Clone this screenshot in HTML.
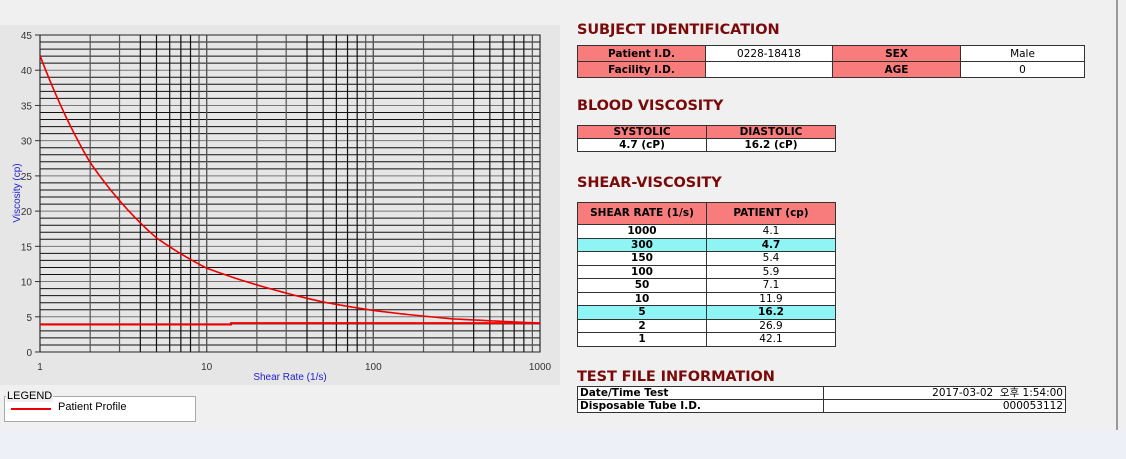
<!DOCTYPE html>
<html><head><meta charset="utf-8">
<style>
body{margin:0;width:1126px;height:459px;background:#f0f0f0;position:relative;overflow:hidden;font-family:"DejaVu Sans","Liberation Sans",sans-serif;}
.abs{position:absolute}
.title{position:absolute;left:577px;color:#7a0a0a;font-weight:bold;font-size:14.5px;letter-spacing:-0.1px;font-family:"DejaVu Sans",sans-serif}
table{position:absolute;border-collapse:collapse;font-size:10.5px;table-layout:fixed}
td{padding:0;text-align:center;border:1px solid #333;line-height:14px;height:14px;overflow:hidden;white-space:nowrap}
.sv td{line-height:12.5px;height:12.5px}
.sv tr:first-child td{height:21px;line-height:21px}
.h{background:#f87c7c;font-weight:bold}
.w{background:#fff}
.c{background:#8ef4f4;font-weight:bold}
.b{font-weight:bold}
</style></head><body>
<div class="abs" style="left:0;top:25px;width:560px;height:360px;background:#e6e6e6"></div>
<svg class="abs" style="left:0;top:0" width="560" height="390" id="chart"></svg>
<div class="abs" style="left:4px;top:396px;width:190px;height:24px;border:1px solid #aaa;background:#fff"></div>
<div class="abs" style="left:6px;top:390px;font:11px 'Liberation Sans',sans-serif;background:#f0f0f0;padding:0 1px">LEGEND</div>
<div class="abs" style="left:11px;top:408px;width:40px;height:2px;background:#e00"></div>
<div class="abs" style="left:58px;top:401px;font:11px 'Liberation Sans',sans-serif">Patient Profile</div>
<div class="abs" style="left:1116px;top:0;width:2px;height:430px;background:#999"></div>
<div class="abs" style="left:0;top:431px;width:1126px;height:28px;background:#edf0f6"></div>

<div class="title" style="top:22px">SUBJECT IDENTIFICATION</div>
<table style="left:577px;top:45px;width:508px">
<tr><td class="h" style="width:127px;height:15px">Patient I.D.</td><td class="w" style="width:126px">0228-18418</td><td class="h" style="width:127px">SEX</td><td class="w">Male</td></tr>
<tr><td class="h" style="height:15px">Facility I.D.</td><td class="w"></td><td class="h">AGE</td><td class="w">0</td></tr>
</table>

<div class="title" style="top:98px">BLOOD VISCOSITY</div>
<table style="left:577px;top:125px;width:259px">
<tr><td class="h" style="width:128px;line-height:12px;height:12px">SYSTOLIC</td><td class="h" style="line-height:12px;height:12px">DIASTOLIC</td></tr>
<tr><td class="w b" style="line-height:12px;height:12px">4.7 (cP)</td><td class="w b" style="line-height:12px;height:12px">16.2 (cP)</td></tr>
</table>

<div class="title" style="top:175px">SHEAR-VISCOSITY</div>
<table class="sv" style="left:577px;top:202px;width:259px">
<tr><td class="h" style="width:128px">SHEAR RATE (1/s)</td><td class="h">PATIENT (cp)</td></tr>
<tr><td class="w b">1000</td><td class="w">4.1</td></tr>
<tr><td class="c">300</td><td class="c">4.7</td></tr>
<tr><td class="w b">150</td><td class="w">5.4</td></tr>
<tr><td class="w b">100</td><td class="w">5.9</td></tr>
<tr><td class="w b">50</td><td class="w">7.1</td></tr>
<tr><td class="w b">10</td><td class="w">11.9</td></tr>
<tr><td class="c">5</td><td class="c">16.2</td></tr>
<tr><td class="w b">2</td><td class="w">26.9</td></tr>
<tr><td class="w b">1</td><td class="w">42.1</td></tr>
</table>

<div class="title" style="top:369px">TEST FILE INFORMATION</div>
<table style="left:577px;top:386px;width:489px">
<tr><td class="w b" style="width:243px;text-align:left;padding-left:2px;line-height:12px;height:12px">Date/Time Test</td><td class="w" style="text-align:right;padding-right:2px;line-height:12px;height:12px;font-family:'DejaVu Sans','Noto Sans CJK KR',sans-serif">2017-03-02 &nbsp;오후 1:54:00</td></tr>
<tr><td class="w b" style="text-align:left;padding-left:2px;line-height:12px;height:12px">Disposable Tube I.D.</td><td class="w" style="text-align:right;padding-right:2px;line-height:12px;height:12px">000053112</td></tr>
</table>

<script>
const shearRates=[1,2,5,10,50,100,150,300,1000];
const viscosity=[42.1,26.9,16.2,11.9,7.1,5.9,5.4,4.7,4.1];
const baseRates=[1,14,14,1000];
const baseValues=[3.9,3.9,4.1,4.1];
const xTicks=[1,10,100,1000];
const yTicks=[0,5,10,15,20,25,30,35,40,45];
const NS='http://www.w3.org/2000/svg';
const svg=document.getElementById('chart');
const X0=40,X1=540,Y0=352,Y1=35;
const xs=v=>X0+(Math.log10(v)/3)*(X1-X0);
const ys=v=>Y0-(v/45)*(Y0-Y1);
function mk(t,a){const e=document.createElementNS(NS,t);for(const k in a)e.setAttribute(k,a[k]);svg.appendChild(e);return e;}
for(let v=0;v<=45;v++){
  const l=mk('line',{x1:X0,x2:X1,y1:ys(v),y2:ys(v),stroke:v%5==0?'#777':'#111','stroke-width':1});
  
  
}
for(let d=1;d<=100;d*=10){for(let m=1;m<=10;m++){const v=d*m;
  const l=mk('line',{x1:xs(v),x2:xs(v),y1:Y1,y2:Y0,stroke:(m==1||m==10||m==2||m==3||m==9)?'#555':'#111','stroke-width':1.2});
  
  
}}
mk('rect',{x:X0,y:Y1,width:X1-X0,height:Y0-Y1,fill:'none',stroke:'#222'});
yTicks.forEach(v=>{const t=mk('text',{x:X0-8,y:ys(v)+4,'text-anchor':'end','font-size':10,'font-family':'Liberation Sans,sans-serif',fill:'#333'});t.textContent=v;
 
 mk('line',{x1:X0-5,x2:X0,y1:ys(v),y2:ys(v),stroke:'#333'});});
xTicks.forEach(v=>{const t=mk('text',{x:xs(v),y:Y0+18,'text-anchor':'middle','font-size':10,'font-family':'Liberation Sans,sans-serif',fill:'#333'});t.textContent=v;
 });
const xt=mk('text',{x:290,y:380,'text-anchor':'middle','font-size':10,'font-family':'Liberation Sans,sans-serif',fill:'#22c'});xt.textContent='Shear Rate (1/s)';

const yt=mk('text',{x:0,y:0,transform:'translate(20,193) rotate(-90)','text-anchor':'middle','font-size':10,'font-family':'Liberation Sans,sans-serif',fill:'#22c'});yt.textContent='Viscosity (cp)';

let pts=[];
for(let i=0;i<shearRates.length-1;i++){const a=Math.log(shearRates[i]),b=Math.log(shearRates[i+1]),va=Math.log(viscosity[i]),vb=Math.log(viscosity[i+1]);
 for(let k=0;k<20;k++){const f=k/20;pts.push([xs(Math.exp(a+(b-a)*f)),ys(Math.exp(va+(vb-va)*f))]);}}
pts.push([xs(shearRates[shearRates.length-1]),ys(viscosity[viscosity.length-1])]);
const c=mk('polyline',{points:pts.map(p=>p.join(',')).join(' '),fill:'none',stroke:'#e00','stroke-width':1.6});

const bl=mk('polyline',{points:baseRates.map((r,i)=>xs(r)+','+ys(baseValues[i])).join(' '),fill:'none',stroke:'#e00','stroke-width':2});

</script>
</body></html>
